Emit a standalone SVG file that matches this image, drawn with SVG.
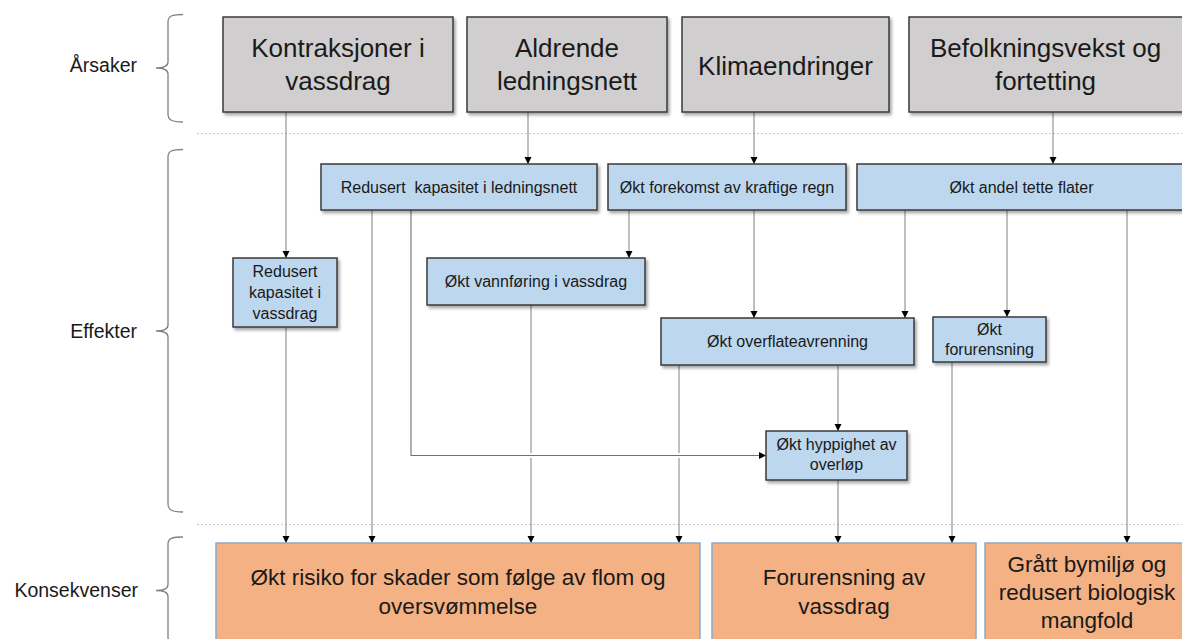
<svg xmlns="http://www.w3.org/2000/svg" width="1182" height="639" viewBox="0 0 1182 639">
<style>
text{font-family:"Liberation Sans",Arial,sans-serif;fill:#1a1a1a;text-anchor:middle}
.lbl{font-size:19.5px;text-anchor:end}
.cause{fill:#D0CECE;stroke:#3a3a3a;stroke-width:1.5}
.eff{fill:#BDD7EE;stroke:#3a3a3a;stroke-width:1.5}
.cons{fill:#F4B183;stroke:#8FA8C4;stroke-width:1.5}
.t26{font-size:26px}
.t16{font-size:16px}
.t22{font-size:22.5px}
.brace{fill:none;stroke:#808080;stroke-width:1.3}
.sep{stroke:#C8C8C8;stroke-width:1;stroke-dasharray:2 2}
.conn path{fill:none;stroke:#8c8c8c;stroke-width:1.1;marker-end:url(#arr)}
</style>
<defs>
<marker id="arr" markerUnits="userSpaceOnUse" markerWidth="8" markerHeight="8" refX="7" refY="3.5" orient="auto">
<path d="M0,0 L7,3.5 L0,7 z" fill="#000"/>
</marker>
<filter id="sh" x="-5%" y="-10%" width="115%" height="130%">
<feDropShadow dx="2" dy="2.5" stdDeviation="1.5" flood-color="#000" flood-opacity="0.35"/>
</filter>
</defs>
<rect width="1182" height="639" fill="#fff"/>

<g id="labels">
<text class="lbl" x="137" y="72">Årsaker</text>
<text class="lbl" x="137" y="338">Effekter</text>
<text class="lbl" x="138" y="597">Konsekvenser</text>
<path class="brace" d="M183,14.5 C172,14.5 168,16 168,22 V62 C168,66 165,68 156,68 C165,68 168,70 168,74 V114 C168,120 172,122 183,122"/>
<path class="brace" d="M183,149.5 C172,149.5 168,151 168,157 V325 C168,329 165,331 156,331 C165,331 168,333 168,337 V504 C168,510 172,512 183,512"/>
<path class="brace" d="M183,537 C172,537 168,538.5 168,544 V584.5 C168,588.5 165,590.5 156,590.5 C165,590.5 168,592.5 168,596.5 V637 C168,643 172,644 183,644"/>
<line class="sep" x1="197" y1="133.5" x2="1182" y2="133.5"/>
<line class="sep" x1="197" y1="524.5" x2="1182" y2="524.5"/>
</g>

<g id="connectors" class="conn">
<path d="M286,112 V258"/>
<path d="M528,112 V164"/>
<path d="M754,112 V164"/>
<path d="M1053,112 V164"/>
<path d="M286,327 V543"/>
<path d="M372,210 V543"/>
<path d="M531,305 V543"/>
<path d="M629,210 V258"/>
<path d="M754,210 V318"/>
<path d="M905,210 V318"/>
<path d="M1007,210 V317"/>
<path d="M1127,210 V543"/>
<path d="M679,365 V543"/>
<path d="M838,365 V431"/>
<path d="M838,480 V543"/>
<path d="M952,362 V543"/>
<path d="M412,455.5 H760" style="stroke:#fff;stroke-width:5;marker-end:none"/>
<path d="M411,210 V455.5 H766" style="stroke:#707070"/>
</g>

<g id="b1"><rect class="cause" x="223" y="17" width="230" height="95" filter="url(#sh)"/>
<text class="t26" x="338" y="57">Kontraksjoner i</text><text class="t26" x="338" y="90">vassdrag</text></g>
<g id="b2"><rect class="cause" x="467" y="17" width="200" height="95" filter="url(#sh)"/>
<text class="t26" x="567" y="57">Aldrende</text><text class="t26" x="567" y="90">ledningsnett</text></g>
<g id="b3"><rect class="cause" x="682" y="17" width="207" height="95" filter="url(#sh)"/>
<text class="t26" x="785.5" y="75">Klimaendringer</text></g>
<g id="b4"><rect class="cause" x="909" y="17" width="276" height="95" filter="url(#sh)"/>
<text class="t26" x="1045.5" y="57">Befolkningsvekst og</text><text class="t26" x="1045.5" y="90">fortetting</text></g>

<g id="e1"><rect class="eff" x="321" y="164" width="276" height="46" filter="url(#sh)"/>
<text class="t16" x="459" y="193" xml:space="preserve">Redusert  kapasitet i ledningsnett</text></g>
<g id="e2"><rect class="eff" x="608" y="164" width="238" height="46" filter="url(#sh)"/>
<text class="t16" x="727" y="193">Økt forekomst av kraftige regn</text></g>
<g id="e3"><rect class="eff" x="857" y="164" width="330" height="46" filter="url(#sh)"/>
<text class="t16" x="1021.5" y="193">Økt andel tette flater</text></g>
<g id="e4"><rect class="eff" x="233" y="258" width="104" height="69" filter="url(#sh)"/>
<text class="t16" x="285" y="277">Redusert</text><text class="t16" x="285" y="298">kapasitet i</text><text class="t16" x="285" y="319">vassdrag</text></g>
<g id="e5"><rect class="eff" x="427" y="258" width="218" height="47" filter="url(#sh)"/>
<text class="t16" x="536" y="287">Økt vannføring i vassdrag</text></g>
<g id="e6"><rect class="eff" x="661" y="318" width="253" height="47" filter="url(#sh)"/>
<text class="t16" x="787.5" y="347">Økt overflateavrenning</text></g>
<g id="e7"><rect class="eff" x="933" y="317" width="113" height="45" filter="url(#sh)"/>
<text class="t16" x="989.5" y="335">Økt</text><text class="t16" x="989.5" y="355">forurensning</text></g>
<g id="e8"><rect class="eff" x="766" y="431" width="141" height="49" filter="url(#sh)"/>
<text class="t16" x="836.5" y="450">Økt hyppighet av</text><text class="t16" x="836.5" y="470">overløp</text></g>

<g id="c1"><rect class="cons" x="216" y="543" width="484" height="100"/>
<text class="t22" x="458" y="585">Økt risiko for skader som følge av flom og</text><text class="t22" x="458" y="614">oversvømmelse</text></g>
<g id="c2"><rect class="cons" x="712" y="543" width="264" height="100"/>
<text class="t22" x="844" y="585">Forurensning av</text><text class="t22" x="844" y="614">vassdrag</text></g>
<g id="c3"><rect class="cons" x="985" y="543" width="210" height="100"/>
<text class="t22" x="1087" y="571.5">Grått bymiljø og</text><text class="t22" x="1087" y="599.5">redusert biologisk</text><text class="t22" x="1087" y="628">mangfold</text></g>
</svg>
